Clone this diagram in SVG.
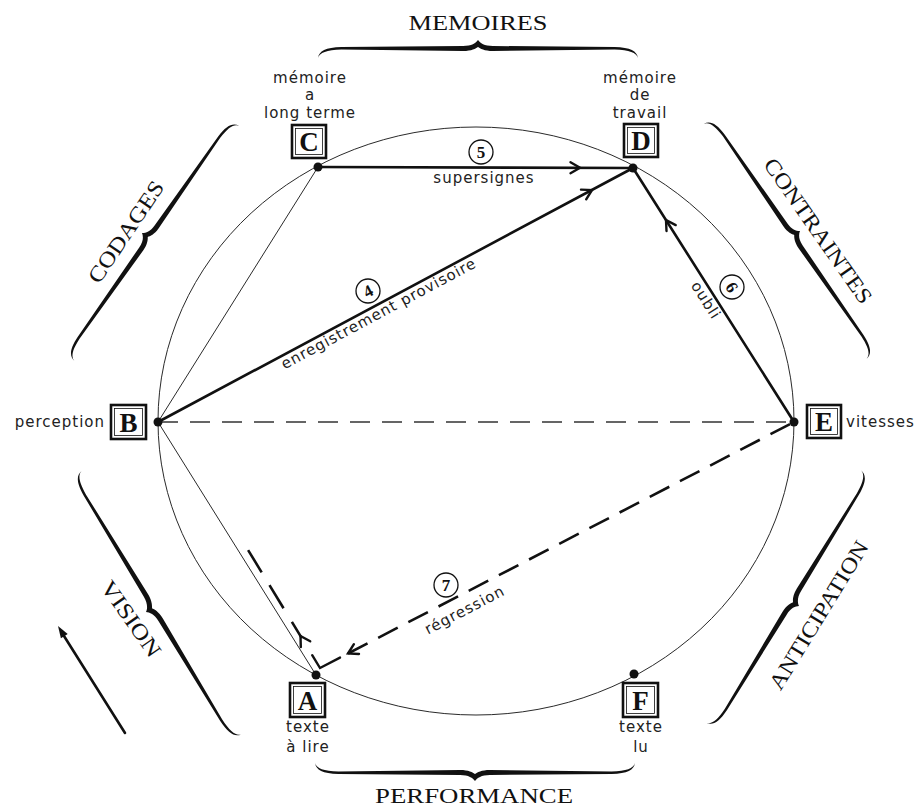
<svg xmlns="http://www.w3.org/2000/svg" width="919" height="807" viewBox="0 0 919 807">
<style>
.bg{fill:#fff}
.thin{fill:none;stroke:#2a2a2a;stroke-width:1}
.thick{fill:none;stroke:#111;stroke-width:2.6;stroke-linecap:round}
.chev{fill:none;stroke:#111;stroke-width:2.4;stroke-linecap:round;stroke-linejoin:miter}
.dashthin{fill:none;stroke:#333;stroke-width:1.3;stroke-dasharray:20 12}
.dashthick{fill:none;stroke:#111;stroke-width:2.6}
.dot{fill:#111}
.box{fill:#fff;stroke:#111;stroke-width:2.6}
.boxin{fill:none;stroke:#111;stroke-width:0.8}
.let{font-family:"Liberation Serif","Times New Roman",serif;font-weight:bold;font-size:27px;fill:#111;text-anchor:middle}
.lab{font-family:"DejaVu Sans","Liberation Sans",sans-serif;font-size:15px;fill:#222;letter-spacing:1px}
.mid{text-anchor:middle}
.cat{font-family:"Liberation Serif","Times New Roman",serif;font-size:22px;fill:#111;text-anchor:middle}
.num{fill:#fff;stroke:#111;stroke-width:1.3}
.numt{font-family:"Liberation Serif","Times New Roman",serif;font-size:17px;font-weight:bold;fill:#111;text-anchor:middle}
.brace{fill:#111}
</style>
<defs>
<path id="brace" d="M -150,18 C -149,11 -143,7.5 -128,7 L -14,6 C -6,6 -2,3 0,0 C 2,3 6,6 14,6 L 128,7 C 143,7.5 149,11 150,18 C 148.5,12.5 142,10 128,9.5 L 14,11 C 6,11 2,8.5 0,7 C -2,8.5 -6,11 -14,11 L -128,9.5 C -142,10 -148.5,12.5 -150,18 Z"/>
</defs>
<rect class="bg" x="0" y="0" width="919" height="807"/>

<g id="frame">
<ellipse class="thin" cx="476" cy="421" rx="318" ry="294"/>
</g>

<g id="connectors">
<line class="thin" x1="318" y1="167" x2="158" y2="422"/>
<line class="thin" x1="158" y1="422" x2="316" y2="675"/>
<line class="dashthin" x1="158" y1="422" x2="794" y2="422"/>
<line class="thick" x1="318" y1="167" x2="633" y2="168"/>
<path class="chev" d="M 570.5,162.2 L 580,167.7 L 570.5,173.2"/>
<line class="thick" x1="158" y1="422" x2="633" y2="168"/>
<path class="chev" d="M 581,189.6 L 592,190 L 586.2,199.3"/>
<line class="thick" x1="794" y1="422" x2="633" y2="168"/>
<path class="chev" d="M 666.5,231 L 666,220 L 675.7,225.1"/>
<path class="dashthick" d="M 348,653.5 L 794,422" stroke-dasharray="22 12"/>
<path class="chev" d="M 359,654 L 348,653.5 L 353.9,644.2"/>
<path class="chev" d="M 340,657.6 L 320,668 L 312.2,655.2"/>
<path class="dashthick" d="M 320,668 L 248,550" stroke-dasharray="0 35 19 16 27 15 26 100"/>
<path class="chev" d="M 300.8,647 L 300.5,636 L 310.2,641.3"/>
<line class="thick" x1="125" y1="733" x2="64" y2="636"/>
<path class="dot" d="M 58,626 L 67.7,634.1 L 60.9,638.3 Z"/>
</g>

<g id="edge-labels">
<circle class="num" cx="481" cy="152" r="12"/>
<text class="numt" x="481" y="158">5</text>
<text class="lab mid" x="484" y="183">supersignes</text>
<circle class="num" cx="368" cy="291" r="12"/>
<text class="numt" transform="translate(368,291) rotate(-28)" x="0" y="6">4</text>
<text class="lab mid" transform="translate(381,318) rotate(-28.1)">enregistrement provisoire</text>
<circle class="num" cx="732" cy="287" r="12"/>
<text class="numt" transform="translate(732,287) rotate(57.6)" x="0" y="6">6</text>
<text class="lab mid" transform="translate(701.6,303) rotate(57.6)">oubli</text>
<circle class="num" cx="446" cy="585" r="12"/>
<text class="numt" x="446" y="591">7</text>
<text class="lab mid" transform="translate(467,614.5) rotate(-27.4)">régression</text>
</g>

<g id="node-C">
<circle class="dot" cx="318" cy="167" r="4.5"/>
<rect class="box" x="292" y="125" width="34" height="33"/>
<rect class="boxin" x="295.5" y="128.5" width="27" height="26"/>
<text class="let" x="309" y="151">C</text>
<text class="lab mid" x="310" y="83">mémoire</text>
<text class="lab mid" x="310" y="100">a</text>
<text class="lab mid" x="310" y="118">long terme</text>
</g>
<g id="node-D">
<circle class="dot" cx="633" cy="168" r="4.5"/>
<rect class="box" x="624" y="124" width="34" height="33"/>
<rect class="boxin" x="627.5" y="127.5" width="27" height="26"/>
<text class="let" x="641" y="150">D</text>
<text class="lab mid" x="640" y="83">mémoire</text>
<text class="lab mid" x="640" y="100">de</text>
<text class="lab mid" x="640" y="118">travail</text>
</g>
<g id="node-B">
<circle class="dot" cx="158" cy="422" r="4.5"/>
<rect class="box" x="111" y="405" width="35" height="34"/>
<rect class="boxin" x="114.5" y="408.5" width="28" height="27"/>
<text class="let" x="128.5" y="431.5">B</text>
<text class="lab" x="105" y="427" text-anchor="end">perception</text>
</g>
<g id="node-E">
<circle class="dot" cx="794" cy="422" r="4.5"/>
<rect class="box" x="807" y="405" width="34" height="33"/>
<rect class="boxin" x="810.5" y="408.5" width="27" height="26"/>
<text class="let" x="824" y="431">E</text>
<text class="lab" x="846" y="427">vitesses</text>
</g>
<g id="node-A">
<circle class="dot" cx="316" cy="675" r="4.5"/>
<rect class="box" x="290" y="683" width="35" height="34"/>
<rect class="boxin" x="293.5" y="686.5" width="28" height="27"/>
<text class="let" x="307.5" y="709.5">A</text>
<text class="lab mid" x="308" y="732">texte</text>
<text class="lab mid" x="308" y="752">à lire</text>
</g>
<g id="node-F">
<circle class="dot" cx="634" cy="674" r="4.5"/>
<rect class="box" x="623" y="683" width="35" height="34"/>
<rect class="boxin" x="626.5" y="686.5" width="28" height="27"/>
<text class="let" x="640.5" y="709.5">F</text>
<text class="lab mid" x="641" y="732">texte</text>
<text class="lab mid" x="641" y="752">lu</text>
</g>

<g id="cat-memoires">
<use href="#brace" class="brace" transform="translate(478,40) scale(1.0667,1)"/>
<text class="cat" x="478" y="30" textLength="139" lengthAdjust="spacingAndGlyphs">MEMOIRES</text>
</g>
<g id="cat-performance">
<use href="#brace" class="brace" transform="translate(475,781) scale(1.0667,-1)"/>
<text class="cat" x="474" y="803" textLength="198" lengthAdjust="spacingAndGlyphs">PERFORMANCE</text>
</g>
<g id="cat-codages">
<use href="#brace" class="brace" transform="translate(142,233) rotate(-55) scale(0.957,1)"/>
<text class="cat" transform="translate(132,236) rotate(-56)" textLength="118" lengthAdjust="spacingAndGlyphs">CODAGES</text>
</g>
<g id="cat-contraintes">
<use href="#brace" class="brace" transform="translate(800,231) rotate(55.3) scale(0.953,1)"/>
<text class="cat" transform="translate(812,235) rotate(55)" textLength="172" lengthAdjust="spacingAndGlyphs">CONTRAINTES</text>
</g>
<g id="cat-vision">
<use href="#brace" class="brace" transform="translate(146,612) rotate(-121.2) scale(1.027,1)"/>
<text class="cat" transform="translate(125,623) rotate(55)" textLength="88" lengthAdjust="spacingAndGlyphs">VISION</text>
</g>
<g id="cat-anticipation">
<use href="#brace" class="brace" transform="translate(799,606) rotate(121.5) scale(0.987,1)"/>
<text class="cat" transform="translate(825,619) rotate(-58.5)" textLength="170" lengthAdjust="spacingAndGlyphs">ANTICIPATION</text>
</g>
</svg>
